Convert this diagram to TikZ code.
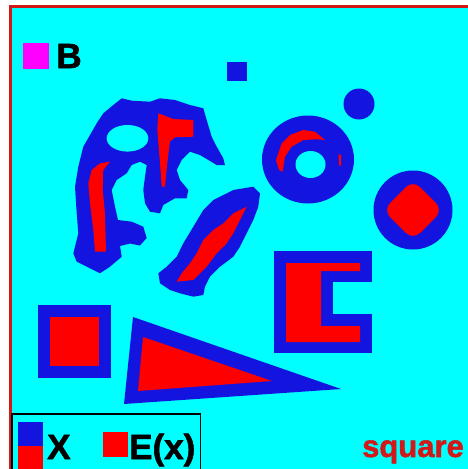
\documentclass[tikz,border=0pt]{standalone}
\usepackage{fontspec}
\setmainfont{Liberation Sans}
\newfontfamily\heavyfont{Liberation Sans Bold}[FakeBold=1.6]
\usepackage{tikz}
\usetikzlibrary{positioning}
\definecolor{setcyan}{RGB}{0, 255, 255}
\definecolor{setblue}{RGB}{20, 20, 225}
\definecolor{erodered}{RGB}{255, 0, 0}
\definecolor{framered}{RGB}{210, 25, 25}
\definecolor{probemagenta}{RGB}{255, 0, 255}

\begin{document}
\begin{tikzpicture}[x=1pt, y=-1pt,
    setX/.style={fill=setblue},
    setE/.style={fill=erodered},
    hole/.style={fill=setcyan},
    bigtext/.style={font=\heavyfont\fontsize{35}{35}\selectfont, inner sep=0pt},
    patch/.style={draw=none, inner sep=0pt, minimum size=25pt}]
  \clip (0,0) rectangle (468,469);
  \fill[white] (0,0) rectangle (468,469);
  % Frame and background
  \draw[framered, line width=3pt, fill=setcyan] (10.5,6.5) rectangle (490,490);
  % Structuring element
  \node[patch, fill=probemagenta, minimum size=26pt] (probe) at (36,56) {};
  \node[bigtext, right=7pt of probe] (lblB) {B};
  % Irregular blob
  \fill[setX] (96.7,123.3) -- (83.3,146.7) -- (78.3,166.7) -- (75,186.7) -- (76.7,213.3)
    -- (78.3,233.3) -- (73.3,253.3) -- (76.7,261.7) -- (93.3,270) -- (100,273.3)
    -- (110,266.7) -- (121.7,256.7) -- (120,246) -- (130,243.5) -- (140,245.5)
    -- (146.7,238) -- (143.3,226.7) -- (131.7,221.7) -- (118,220) -- (115,206.7)
    -- (111.7,190) -- (116.7,180) -- (126.7,173.3) -- (131.7,165) -- (140,161.7)
    -- (146.7,165) -- (145,176.7) -- (143.3,190) -- (145,203.3) -- (150,211.7)
    -- (160,213.3) -- (163.3,205) -- (175,198.3) -- (186.7,198.3) -- (188.3,190)
    -- (180,180) -- (176.7,170) -- (181.7,160) -- (190,151.7) -- (200,155)
    -- (216.7,165) -- (225,165) -- (223.3,158.3) -- (216.7,146.7) -- (211.7,136.7)
    -- (206.7,120) -- (203.3,108.3) -- (190,105) -- (175,100) -- (160,98.3)
    -- (150,101.7) -- (131.7,100.7) -- (121.7,98.3) -- (113.3,105) -- (103.3,113.3) -- cycle;
  \fill[hole] (127.5,138.3) ellipse (20.8 and 13.3);
  \fill[setE] (100,163.3) -- (110,161.7) -- (103.3,170) -- (102.7,190) -- (105,213.3)
    -- (106,251.7) -- (95,251.7) -- (93.3,230) -- (90,203.3) -- (88.3,183.3) -- (91.7,170) -- cycle;
  \fill[setE] (158.3,113.3) -- (173.3,119) -- (193.3,120) -- (193.3,136.7) -- (175,137.3)
    -- (170,141.7) -- (167.3,163.3) -- (165,186.7) -- (161.7,186.7) -- (160,163.3)
    -- (157.3,130) -- cycle;
  % Elongated blob
  \fill[setX] (233.3,190) -- (253.3,186.7) -- (260,193.3) -- (258.3,206.7) -- (253.3,220)
    -- (246.7,233.3) -- (240,246.7) -- (233.3,256.7) -- (220,266.7) -- (210,276.7)
    -- (205,286.7) -- (203.3,295) -- (193.3,296.7) -- (180,293.3) -- (170,290)
    -- (160,283.3) -- (158.3,273.3) -- (166.7,266.7) -- (176.7,256.7) -- (183.3,243.3)
    -- (193.3,226.7) -- (203.3,210) -- (213.3,200) -- (226.7,193.3) -- cycle;
  \fill[setE] (246.7,206.7) -- (240,220) -- (233.3,233.3) -- (226.7,243.3) -- (216.7,253.3)
    -- (206.7,266.7) -- (200,273.3) -- (193.3,280) -- (176.7,281.7) -- (181.7,273.3)
    -- (190,263.3) -- (196.7,253.3) -- (203.3,240) -- (213.3,230) -- (223.3,223.3)
    -- (233.3,213.3) -- cycle;
  % Small square and dot
  \fill[setX] (227,62) rectangle (247,81);
  \fill[setX] (359,104) circle (15.5);
  % Ring
  \fill[setX] (308,159.5) ellipse (46 and 44);
  \fill[hole] (310.5,164.5) ellipse (15 and 13.5);
  \fill[setE] (276,160) -- (281.7,143.3) -- (290,135) -- (303.3,130) -- (315,131.7)
    -- (325,140) -- (316.7,139.3) -- (303.3,140) -- (291.7,146.7) -- (285,156.7)
    -- (282.7,171.7) -- (279,170) -- cycle;
  \fill[setE] (338.5,154) -- (341,155) -- (341,166) -- (339,165) -- cycle;
  % Disc
  \fill[setX] (413,210) circle (39.5);
  \fill[setE, rounded corners=10pt] (413,180) -- (443,210) -- (413,240) -- (383,210) -- cycle;
  % Notched rectangle
  \fill[setX] (274,251) rectangle (372,353);
  \fill[hole] (333,282) rectangle (372,314);
  \fill[setE] (286,263) -- (360,263) -- (360,271) -- (321,271) -- (321,326)
    -- (360,326) -- (360,342) -- (286,342) -- cycle;
  % Square
  \fill[setX] (38,305) rectangle (111,378);
  \fill[setE] (50,317) rectangle (99,366);
  % Triangle
  \fill[setX] (133,317) -- (124,404) -- (341,389) -- cycle;
  \fill[setE] (143,337) -- (138,391) -- (272,381) -- cycle;
  % Legend
  \draw[black, line width=1.5pt, fill=setcyan] (12,414) rectangle (200.5,490);
  \fill[setE] (18,446) rectangle (43,480);
  \fill[setX] (18,422) rectangle (43,446);
  \node[bigtext, anchor=base west] (lblX) at (47,459) {X};
  \node[patch, fill=erodered] (keyE) at (115.5,444.5) {};
  \node[bigtext, anchor=base west] (lblE) at (129,459) {E(x)};
  \node[bigtext, framered, font=\heavyfont\fontsize{31}{31}\selectfont, anchor=base east]
    (lblShape) at (464,457) {square};
\end{tikzpicture}
\end{document}
